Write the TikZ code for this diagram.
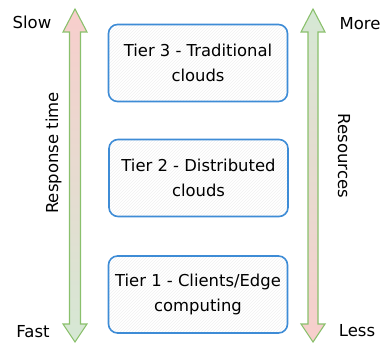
\documentclass[tikz,border=0pt]{standalone}
\usepackage{fontspec}
\setmainfont{DejaVu Sans}
\usepackage{tikz}
\usetikzlibrary{patterns}
\definecolor{arrowgreen}{RGB}{138,192,108}
\definecolor{softpink}{RGB}{248,206,204}
\definecolor{softgreen}{RGB}{213,232,212}
\definecolor{tierblue}{RGB}{62,140,214}

\begin{document}
\begin{tikzpicture}[x=1pt,y=-1pt,
  tier/.style={draw=tierblue,line width=1.6pt,rounded corners=9pt,
    pattern=north east lines,pattern color=black!6,
    minimum width=179pt,minimum height=77pt,align=center,
    inner xsep=1pt,font=\fontsize{16.4}{25.5}\selectfont},
  sidetext/.style={font=\fontsize{16.5}{19}\selectfont,anchor=base},
  blockarrow/.style={draw=arrowgreen,line width=1.1pt,line join=miter}]
\useasboundingbox(0,0)rectangle(382,344);
% response time arrow
\path[blockarrow,top color=softpink,bottom color=softgreen]
(75,9)--(87,32)--(80.5,32)--(80.5,324)--(87,324)--(75,342)
--(63,324)--(69.5,324)--(69.5,32)--(63,32)--cycle;
% resources arrow
\path[blockarrow,top color=softgreen,bottom color=softpink]
(313,9)--(325,32)--(318,32)--(318,324)--(325,324)--(313,342)
--(301,324)--(308,324)--(308,32)--(301,32)--cycle;
\node[sidetext](slow)at(32,29){Slow};
\node[sidetext](fast)at(33,337){Fast};
\node[sidetext](more)at(360,30){More};
\node[sidetext](less)at(357,336){Less};
\node[sidetext,rotate=90](resp)at(58,153){Response time};
\node[sidetext,rotate=-90](res)at(338,156){Resources};
\node[tier](tier3)at(198,63){Tier 3 - Traditional\\clouds};
\node[tier](tier2)at(198.5,178){Tier 2 - Distributed\\clouds};
\node[tier](tier1)at(198,294.5){Tier 1 - Clients/Edge\\computing};
\end{tikzpicture}
\end{document}
